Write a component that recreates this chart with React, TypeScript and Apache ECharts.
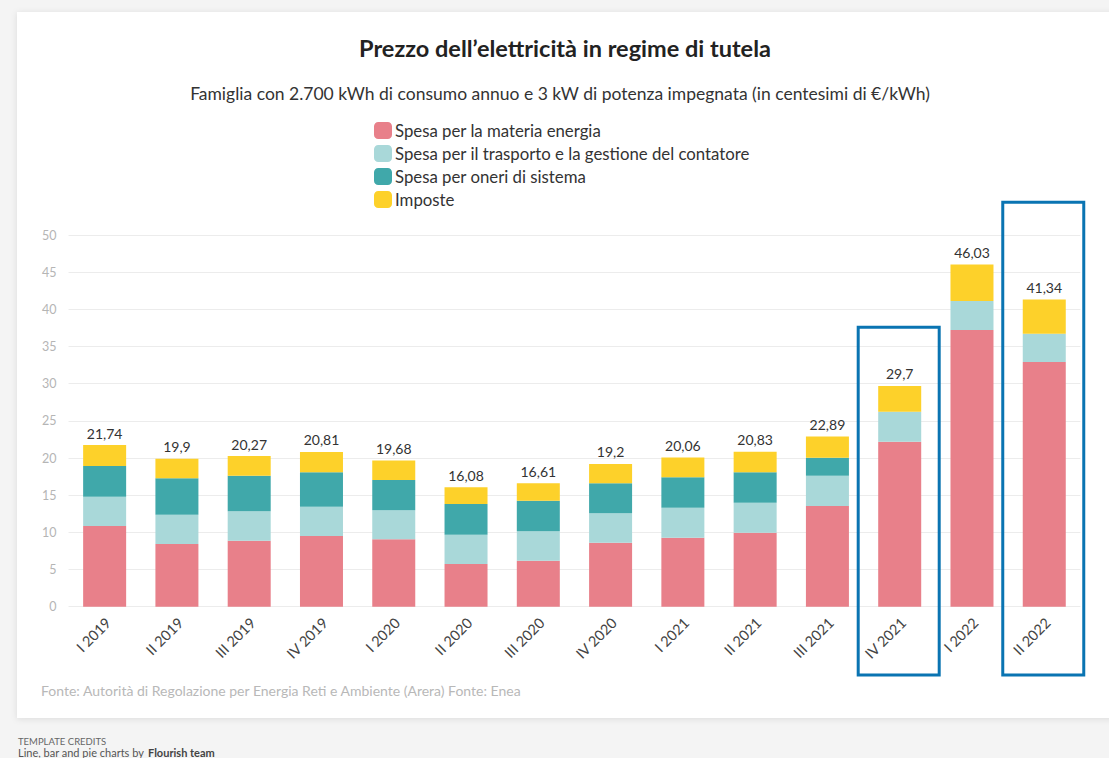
import React, { useEffect, useRef } from "react";
import * as echarts from "echarts";

const categories = ["I 2019", "II 2019", "III 2019", "IV 2019", "I 2020", "II 2020", "III 2020", "IV 2020", "I 2021", "II 2021", "III 2021", "IV 2021", "I 2022", "II 2022"];
const energia = [10.85, 8.43, 8.88, 9.51, 9.06, 5.74, 6.19, 8.61, 9.28, 9.95, 13.55, 22.2, 37.22, 32.92];
const trasporto = [3.95, 3.95, 3.95, 3.94, 3.9, 3.95, 3.95, 3.95, 4.04, 4.04, 4.07, 4.03, 3.9, 3.81];
const oneri = [4.13, 4.89, 4.79, 4.63, 4.08, 4.13, 4.12, 4.04, 4.09, 4.09, 2.42, 0, 0, 0];
const imposte = [2.81, 2.63, 2.65, 2.73, 2.64, 2.26, 2.35, 2.6, 2.65, 2.75, 2.85, 3.47, 4.91, 4.61];
const totals = [21.74, 19.9, 20.27, 20.81, 19.68, 16.08, 16.61, 19.2, 20.06, 20.83, 22.89, 29.7, 46.03, 41.34];
const seriesNames = [
  "Spesa per la materia energia",
  "Spesa per il trasporto e la gestione del contatore",
  "Spesa per oneri di sistema",
  "Imposte",
];
const colors = ["#E8808A", "#A9D8D9", "#40A8AA", "#FDD12A"];
const highlighted = [
  { index: 11, topValue: 37.6 },
  { index: 13, topValue: 54.4 },
];

const FONT = "Lato";

export default function App() {
  const ref = useRef<HTMLDivElement>(null);
  useEffect(() => {
    if (!ref.current) return;
    const chart = echarts.init(ref.current, null, { renderer: "svg" });
    const data = [energia, trasporto, oneri, imposte];
    chart.setOption({
      animation: false,
      backgroundColor: "#f4f4f4",
      textStyle: { fontFamily: FONT },
      grid: { left: 68.5, right: 28.6, top: 235, bottom: 151.3 },
      legend: {
        orient: "vertical",
        left: 374,
        top: 122,
        padding: 0,
        itemWidth: 18,
        itemHeight: 17,
        itemGap: 6,
        icon: "roundRect",
        selectedMode: false,
        textStyle: { fontSize: 16.8, color: "#333", fontFamily: FONT, padding: [0, 0, 0, -2] },
        data: seriesNames,
      },
      xAxis: {
        type: "category",
        data: categories,
        axisLine: { show: false },
        axisTick: { show: false },
        axisLabel: {
          rotate: 45,
          fontSize: 14.5,
          color: "#444",
          margin: 17,
          padding: [0, -5, 0, 0],
          fontFamily: FONT,
        },
      },
      yAxis: {
        type: "value",
        min: 0,
        max: 50,
        interval: 5,
        axisLine: { show: false },
        axisTick: { show: false },
        axisLabel: { fontSize: 12.5, color: "#b5b5b5", margin: 12, fontFamily: FONT },
        splitLine: { lineStyle: { color: "#ececec", width: 1 } },
      },
      series: data.map((d, i) => ({
        name: seriesNames[i],
        type: "bar",
        stack: "tot",
        data: d,
        barCategoryGap: "40.5%",
        itemStyle: { color: colors[i] },
        label:
          i === 3
            ? {
                show: true,
                position: "top",
                distance: 5,
                fontSize: 14,
                color: "#333",
                fontFamily: FONT,
                formatter: (p: any) => String(totals[p.dataIndex]).replace(".", ","),
              }
            : { show: false },
      })),
    });

    const boxes = highlighted.map((h) => {
      const cxRaw: any = chart.convertToPixel({ xAxisIndex: 0 }, categories[h.index]);
      const topRaw: any = chart.convertToPixel({ yAxisIndex: 0 }, h.topValue);
      const cx = Array.isArray(cxRaw) ? cxRaw[0] : cxRaw;
      const top = Array.isArray(topRaw) ? topRaw[1] : topRaw;
      const bottom = 675;
      const w = 81;
      return {
        type: "rect",
        shape: { x: cx - w / 2 - 1, y: top, width: w, height: bottom - top },
        style: { fill: "none", stroke: "#0A74B2", lineWidth: 3 },
        z: 100,
      };
    });

    chart.setOption({
      graphic: [
        {
          type: "rect",
          shape: { x: 17, y: 12, width: 1120, height: 706 },
          style: { fill: "#ffffff", shadowBlur: 6, shadowColor: "rgba(0,0,0,0.10)", shadowOffsetY: 1 },
          z: -10,
          silent: true,
        },
        {
          type: "text",
          x: 565,
          y: 48,
          style: {
            text: "Prezzo dell’elettricità in regime di tutela",
            font: `bold 23.5px ${FONT}`,
            fill: "#222",
            textAlign: "center",
            textVerticalAlign: "middle",
          },
        },
        {
          type: "text",
          x: 560,
          y: 93,
          style: {
            text: "Famiglia con 2.700 kWh di consumo annuo e 3 kW di potenza impegnata (in centesimi di €/kWh)",
            font: `17.5px ${FONT}`,
            fill: "#333",
            textAlign: "center",
            textVerticalAlign: "middle",
          },
        },
        {
          type: "text",
          x: 41,
          y: 690,
          style: {
            text: "Fonte: Autorità di Regolazione per Energia Reti e Ambiente (Arera) Fonte: Enea",
            font: `14px ${FONT}`,
            fill: "#b8b8b8",
            textVerticalAlign: "middle",
          },
        },
        {
          type: "text",
          x: 18,
          y: 741,
          style: {
            text: "TEMPLATE CREDITS",
            font: `9.5px ${FONT}`,
            fill: "#666",
            textVerticalAlign: "middle",
          },
        },
        {
          type: "text",
          x: 18,
          y: 752,
          style: {
            text: "Line, bar and pie charts by ",
            font: `11px ${FONT}`,
            fill: "#555",
            textVerticalAlign: "middle",
          },
        },
        {
          type: "text",
          x: 148,
          y: 752,
          style: {
            text: "Flourish team",
            font: `bold 11px ${FONT}`,
            fill: "#444",
            textVerticalAlign: "middle",
          },
        },
        ...boxes,
      ],
    });
    return () => chart.dispose();
  }, []);
  return (
    <div
      ref={ref}
      style={{ position: "fixed", left: 0, top: 0, width: 1109, height: 758 }}
    />
  );
}
